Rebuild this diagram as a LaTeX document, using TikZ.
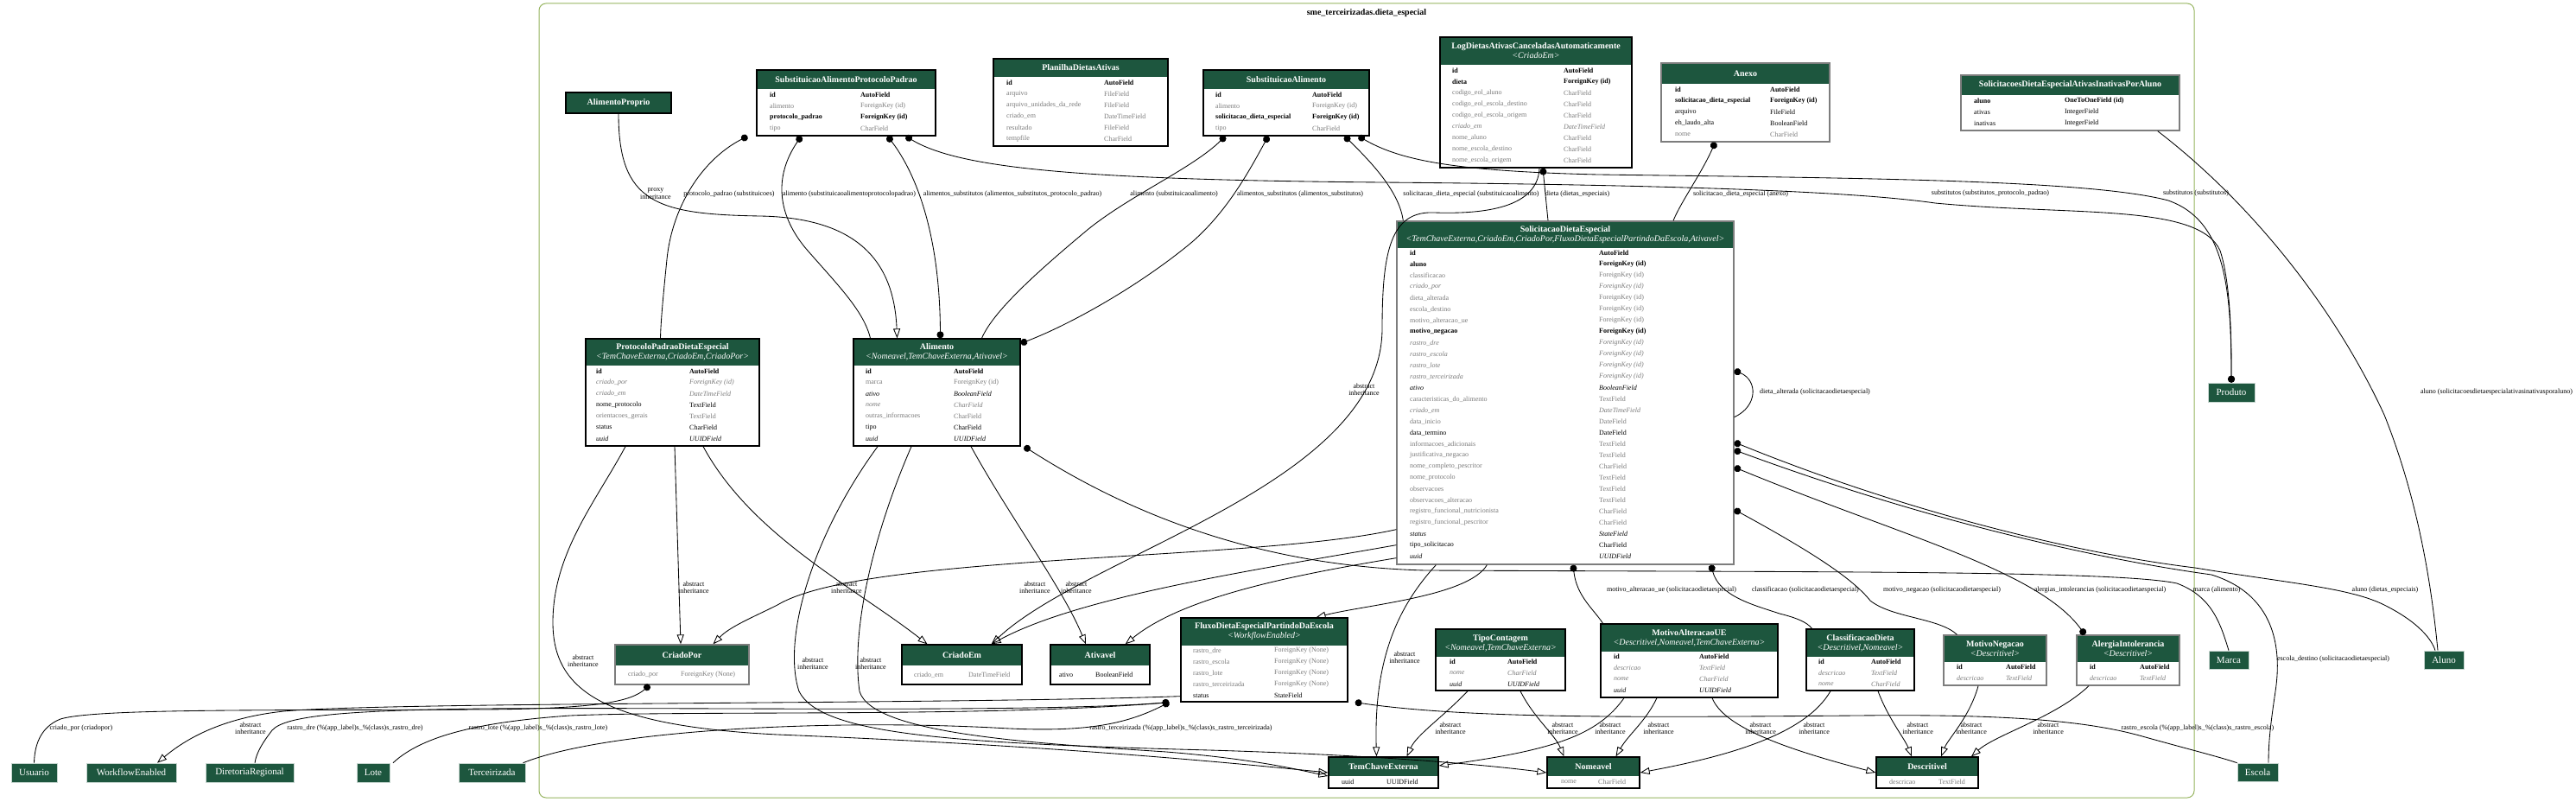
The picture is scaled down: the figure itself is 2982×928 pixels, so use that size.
\documentclass[tikz,border=0pt]{standalone}
\usepackage{fontspec}
\setmainfont{Liberation Serif}
\usetikzlibrary{arrows.meta,positioning,fit}

\definecolor{hdrgreen}{RGB}{29,86,62}
\definecolor{muted}{RGB}{123,123,123}
\definecolor{framegray}{RGB}{125,125,125}
\definecolor{clusterline}{RGB}{150,180,95}

\tikzset{
  tblblack/.style={draw=black, line width=1.3pt, inner sep=0pt},
  tblgray/.style={draw=framegray, line width=1.3pt, inner sep=0pt},
  hdrtext/.style={text=white, align=center, inner sep=0pt, font=\fontsize{10}{11}\selectfont\bfseries},
  fld/.style={anchor=west, inner sep=0pt, font=\fontsize{8}{9}\selectfont},
  fbold/.style={font=\fontsize{8}{9}\selectfont\bfseries},
  fplain/.style={},
  fmuted/.style={text=muted},
  fmutedit/.style={text=muted, font=\fontsize{8}{9}\selectfont\itshape},
  fitalic/.style={font=\fontsize{8}{9}\selectfont\itshape},
  extmodel/.style={fill=hdrgreen, draw=white!75!hdrgreen, line width=0.6pt, text=white, inner sep=0pt, minimum height=22pt, font=\fontsize{11}{12}\selectfont},
  elabel/.style={inner sep=0pt, align=center, font=\fontsize{8}{8.5}\selectfont},
  rel/.style={line width=0.85pt},
  fk/.style={rel, {Circle[length=8pt]}-},
  mtm/.style={rel, {Circle[length=8pt]}-{Circle[length=8pt]}},
  inh/.style={rel, -{Triangle[open, length=11pt, width=8pt]}},
}

% frame style, name, x1, y1, x2, header bottom, y2, title
\newcommand{\modelbox}[8]{%
  \fill[hdrgreen] (#3,#4) rectangle (#5,#6);
  \node[hdrtext] (#2-title) at ({(#3+#5)/2},{(#4+#6)/2}) {#8};
  \node[#1, fit={(#3,#4) (#5,#7)}] (#2) {};
}
% name, field x, type x, first row y, rows
\newcommand{\modelrows}[5]{%
  \foreach \fname/\ftype/\fsty [count=\i] in {#5} {
    \node[fld,\fsty] (#1-n\i) at (#2,{#4+13*(\i-1)}) {\fname};
    \node[fld,\fsty] (#1-t\i) at (#3,{#4+13*(\i-1)}) {\ftype};
  }}
\newcommand{\bases}[1]{\\{\mdseries\itshape <#1>}}

\begin{document}
\begin{tikzpicture}[x=1pt, y=-1pt]
\useasboundingbox (0,0) rectangle (2982,928);
\fill[white] (0,0) rectangle (2982,928);

\draw[clusterline, line width=1pt, rounded corners=8pt] (624,4) rectangle (2540,923);
\node[inner sep=0pt, font=\fontsize{10}{11}\selectfont\bfseries] (apptitle) at (1582,15) {sme\_terceirizadas.dieta\_especial};

% models of the app
\modelbox{tblblack}{alimproprio}{655}{107}{777}{131}{131}{AlimentoProprio}

\modelbox{tblblack}{sapp}{876}{81}{1083}{103}{157}{SubstituicaoAlimentoProtocoloPadrao}
\modelrows{sapp}{891}{996}{109.5}{id/AutoField/fbold, alimento/ForeignKey (id)/fmuted,
  protocolo\_padrao/ForeignKey (id)/fbold, tipo/CharField/fmuted}

\modelbox{tblblack}{planilha}{1150}{68}{1352}{89}{169}{PlanilhaDietasAtivas}
\modelrows{planilha}{1165}{1278}{95.5}{id/AutoField/fbold, arquivo/FileField/fmuted,
  arquivo\_unidades\_da\_rede/FileField/fmuted, criado\_em/DateTimeField/fmuted,
  resultado/FileField/fmuted, tempfile/CharField/fmuted}

\modelbox{tblblack}{subalim}{1393}{81}{1585}{103}{157}{SubstituicaoAlimento}
\modelrows{subalim}{1407}{1519}{109.5}{id/AutoField/fbold, alimento/ForeignKey (id)/fmuted,
  solicitacao\_dieta\_especial/ForeignKey (id)/fbold, tipo/CharField/fmuted}

\modelbox{tblblack}{logdietas}{1667}{43}{1889}{75}{194}{LogDietasAtivasCanceladasAutomaticamente\bases{CriadoEm}}
\modelrows{logdietas}{1681}{1810}{81.5}{id/AutoField/fbold, dieta/ForeignKey (id)/fbold,
  codigo\_eol\_aluno/CharField/fmuted, codigo\_eol\_escola\_destino/CharField/fmuted,
  codigo\_eol\_escola\_origem/CharField/fmuted, criado\_em/DateTimeField/fmutedit,
  nome\_aluno/CharField/fmuted, nome\_escola\_destino/CharField/fmuted,
  nome\_escola\_origem/CharField/fmuted}

\modelbox{tblgray}{anexo}{1923}{73}{2118}{97}{164}{Anexo}
\modelrows{anexo}{1939}{2049}{103.5}{id/AutoField/fbold,
  solicitacao\_dieta\_especial/ForeignKey (id)/fbold, arquivo/FileField/fplain,
  eh\_laudo\_alta/BooleanField/fplain, nome/CharField/fmuted}

\modelbox{tblgray}{ativinat}{2270}{87}{2523}{110}{151}{SolicitacoesDietaEspecialAtivasInativasPorAluno}
\modelrows{ativinat}{2285}{2390}{116.5}{aluno/OneToOneField (id)/fbold,
  ativas/IntegerField/fplain, inativas/IntegerField/fplain}

\modelbox{tblblack}{protocolo}{678}{392}{879}{423}{516}{ProtocoloPadraoDietaEspecial\bases{TemChaveExterna,CriadoEm,CriadoPor}}
\modelrows{protocolo}{690}{798}{429.5}{id/AutoField/fbold, criado\_por/ForeignKey (id)/fmutedit,
  criado\_em/DateTimeField/fmutedit, nome\_protocolo/TextField/fplain,
  orientacoes\_gerais/TextField/fmuted, status/CharField/fplain, uuid/UUIDField/fitalic}

\modelbox{tblblack}{alimento}{988}{392}{1181}{423}{516}{Alimento\bases{Nomeavel,TemChaveExterna,Ativavel}}
\modelrows{alimento}{1002}{1104}{429.5}{id/AutoField/fbold, marca/ForeignKey (id)/fmuted,
  ativo/BooleanField/fitalic, nome/CharField/fmutedit, outras\_informacoes/CharField/fmuted,
  tipo/CharField/fplain, uuid/UUIDField/fitalic}

\modelbox{tblgray}{sde}{1617}{256}{2007}{287}{653}{SolicitacaoDietaEspecial\bases{TemChaveExterna,CriadoEm,CriadoPor,FluxoDietaEspecialPartindoDaEscola,Ativavel}}
\modelrows{sde}{1632}{1851}{293}{id/AutoField/fbold, aluno/ForeignKey (id)/fbold,
  classificacao/ForeignKey (id)/fmuted, criado\_por/ForeignKey (id)/fmutedit,
  dieta\_alterada/ForeignKey (id)/fmuted, escola\_destino/ForeignKey (id)/fmuted,
  motivo\_alteracao\_ue/ForeignKey (id)/fmuted, motivo\_negacao/ForeignKey (id)/fbold,
  rastro\_dre/ForeignKey (id)/fmutedit, rastro\_escola/ForeignKey (id)/fmutedit,
  rastro\_lote/ForeignKey (id)/fmutedit, rastro\_terceirizada/ForeignKey (id)/fmutedit,
  ativo/BooleanField/fitalic, caracteristicas\_do\_alimento/TextField/fmuted,
  criado\_em/DateTimeField/fmutedit, data\_inicio/DateField/fmuted,
  data\_termino/DateField/fplain, informacoes\_adicionais/TextField/fmuted,
  justificativa\_negacao/TextField/fmuted, nome\_completo\_pescritor/CharField/fmuted,
  nome\_protocolo/TextField/fmuted, observacoes/TextField/fmuted,
  observacoes\_alteracao/TextField/fmuted, registro\_funcional\_nutricionista/CharField/fmuted,
  registro\_funcional\_pescritor/CharField/fmuted, status/StateField/fitalic,
  tipo\_solicitacao/CharField/fplain, uuid/UUIDField/fitalic}

\modelbox{tblgray}{criadopor}{712}{746}{867}{770}{792}{CriadoPor}
\modelrows{criadopor}{727}{788}{781}{criado\_por/ForeignKey (None)/fmuted}

\modelbox{tblblack}{criadoem}{1044}{746}{1183}{770}{792}{CriadoEm}
\modelrows{criadoem}{1058}{1121}{781}{criado\_em/DateTimeField/fmuted}

\modelbox{tblblack}{ativavel}{1216}{746}{1331}{770}{792}{Ativavel}
\modelrows{ativavel}{1226}{1268}{781}{ativo/BooleanField/fplain}

\modelbox{tblblack}{fluxo}{1367}{715}{1560}{747}{812}{FluxoDietaEspecialPartindoDaEscola\bases{WorkflowEnabled}}
\modelrows{fluxo}{1381}{1475}{753}{rastro\_dre/ForeignKey (None)/fmuted,
  rastro\_escola/ForeignKey (None)/fmuted, rastro\_lote/ForeignKey (None)/fmuted,
  rastro\_terceirizada/ForeignKey (None)/fmuted, status/StateField/fplain}

\modelbox{tblblack}{tipocont}{1662}{728}{1812}{760}{799}{TipoContagem\bases{Nomeavel,TemChaveExterna}}
\modelrows{tipocont}{1678}{1745}{766}{id/AutoField/fbold, nome/CharField/fmutedit,
  uuid/UUIDField/fitalic}

\modelbox{tblblack}{motivoalt}{1853}{722}{2058}{754}{807}{MotivoAlteracaoUE\bases{Descritivel,Nomeavel,TemChaveExterna}}
\modelrows{motivoalt}{1868}{1967}{760}{id/AutoField/fbold, descricao/TextField/fmutedit,
  nome/CharField/fmutedit, uuid/UUIDField/fitalic}

\modelbox{tblblack}{classif}{2091}{728}{2216}{760}{799}{ClassificacaoDieta\bases{Descritivel,Nomeavel}}
\modelrows{classif}{2105}{2166}{766}{id/AutoField/fbold, descricao/TextField/fmutedit,
  nome/CharField/fmutedit}

\modelbox{tblgray}{motivoneg}{2250}{735}{2369}{766}{793}{MotivoNegacao\bases{Descritivel}}
\modelrows{motivoneg}{2265}{2322}{772}{id/AutoField/fbold, descricao/TextField/fmutedit}

\modelbox{tblgray}{alergia}{2404}{735}{2523}{766}{793}{AlergiaIntolerancia\bases{Descritivel}}
\modelrows{alergia}{2419}{2477}{772}{id/AutoField/fbold, descricao/TextField/fmutedit}

\modelbox{tblblack}{temchave}{1538}{876}{1665}{898}{912}{TemChaveExterna}
\modelrows{temchave}{1553}{1605}{905}{uuid/UUIDField/fplain}

\modelbox{tblblack}{nomeavel}{1791}{876}{1898}{898}{912}{Nomeavel}
\modelrows{nomeavel}{1807}{1850}{905}{nome/CharField/fmuted}

\modelbox{tblblack}{descritivel}{2172}{876}{2290}{898}{912}{Descritivel}
\modelrows{descritivel}{2187}{2244}{905}{descricao/TextField/fmuted}

% models of other apps
\node[extmodel, minimum width=53pt] (usuario) at (39.5,894) {Usuario};
\node[extmodel, minimum width=104pt] (workflow) at (152,894) {WorkflowEnabled};
\node[extmodel, minimum width=102pt] (diretoria) at (289,894) {DiretoriaRegional};
\node[extmodel, minimum width=38pt] (lote) at (432,894) {Lote};
\node[extmodel, minimum width=77pt] (terceirizada) at (569.5,894) {Terceirizada};
\node[extmodel, minimum width=54pt] (produto) at (2583,454) {Produto};
\node[extmodel, minimum width=46pt, minimum height=21pt] (marca) at (2580,763.5) {Marca};
\node[extmodel, minimum width=46pt, minimum height=21pt] (aluno) at (2829,763.5) {Aluno};
\node[extmodel, minimum width=47pt, minimum height=21pt] (escola) at (2613.5,893.5) {Escola};

% relations, upper row
\draw[inh] (alimproprio.south) .. controls (716,235) and (760,248) .. (880,250) .. controls (990,252) and (1035,300) .. ([xshift=-46pt]alimento.north);
\draw[fk] ([xshift=-10pt]sapp.south west) .. controls (812,185) and (778,240) .. (772,300) .. controls (768,340) and (765,370) .. ([xshift=-14pt]protocolo.north);
\draw[fk] ([xshift=-52pt]sapp.south) .. controls (895,205) and (900,250) .. (935,290) .. controls (970,330) and (1000,360) .. ([xshift=-77pt]alimento.north);
\draw[mtm] ([xshift=48pt]sapp.south) .. controls (1060,200) and (1088,270) .. ([xshift=4pt]alimento.north);
\draw[mtm] ([xshift=-35pt]sapp.south east) .. controls (1110,195) and (1250,208) .. (1600,211) .. controls (1950,214) and (2150,222) .. (2240,235) .. controls (2400,250) and (2545,235) .. (2570,290) .. controls (2583,330) and (2583,400) .. (produto.north);
\draw[fk] ([xshift=26pt]subalim.south west) .. controls (1380,195) and (1310,225) .. (1260,265) .. controls (1200,315) and (1150,360) .. ([xshift=52pt]alimento.north);
\draw[mtm] ([xshift=-21pt]subalim.south) .. controls (1445,200) and (1420,245) .. (1380,280) .. controls (1320,330) and (1240,375) .. ([yshift=-6pt]alimento.north east);
\draw[fk] ([xshift=-29pt]subalim.south east) .. controls (1595,195) and (1620,225) .. ([xshift=8pt]sde.north west);
\draw[mtm] ([xshift=-13pt]subalim.south east) .. controls (1620,185) and (1680,198) .. (1850,202) .. controls (2150,206) and (2420,208) .. (2510,232) .. controls (2575,255) and (2583,330) .. (produto.north);
\draw[fk] ([xshift=8pt]logdietas.south) -- ([xshift=-20pt]sde.north);
\draw[inh] ([xshift=4pt]logdietas.south) .. controls (1780,240) and (1720,248) .. (1660,246) .. controls (1610,244) and (1600,290) .. (1600,380) .. controls (1600,560) and (1260,640) .. ([xshift=-36pt]criadoem.north east);
\draw[fk] ([xshift=-35pt]anexo.south) .. controls (1970,200) and (1945,235) .. ([xshift=125pt]sde.north);
\draw[rel] ([xshift=-26pt]ativinat.south east) .. controls (2600,230) and (2700,350) .. (2760,480) .. controls (2800,580) and (2815,680) .. ([xshift=-7pt]aluno.north);

% relations, middle row
\draw[inh] ([xshift=-54.5pt]protocolo.south) .. controls (690,580) and (640,640) .. (640,720) .. controls (640,800) and (700,840) .. (900,850) .. controls (1200,862) and (1400,880) .. (temchave.west);
\draw[inh] ([xshift=2.5pt]protocolo.south) -- ([xshift=-1.5pt]criadopor.north);
\draw[inh] ([xshift=35.5pt]protocolo.south) .. controls (870,620) and (990,680) .. ([xshift=-40pt]criadoem.north);
\draw[inh] ([xshift=-68.5pt]alimento.south) .. controls (940,620) and (905,740) .. (925,800) .. controls (950,850) and (1100,860) .. (1400,868) .. controls (1600,874) and (1720,885) .. (nomeavel.west);
\draw[inh] ([xshift=-29.5pt]alimento.south) .. controls (1010,620) and (985,730) .. (995,800) .. controls (1010,850) and (1200,860) .. (1350,870) .. controls (1450,878) and (1500,890) .. ([yshift=-4pt]temchave.west);
\draw[inh] ([xshift=39.5pt]alimento.south) .. controls (1170,600) and (1230,680) .. ([xshift=-16.5pt]ativavel.north);
\draw[fk] ([xshift=4pt]alimento.south east) .. controls (1300,590) and (1450,655) .. (1650,660) .. controls (2100,662) and (2450,660) .. (2520,675) .. controls (2560,690) and (2570,720) .. (marca.north);

\draw[inh] ([yshift=41pt]sde.south west) .. controls (1450,650) and (1000,640) .. (900,700) .. controls (870,715) and (845,725) .. ([xshift=36pt]criadopor.north);
\draw[inh] ([yshift=23pt]sde.south west) .. controls (1450,660) and (1250,690) .. ([xshift=-36pt]criadoem.north east);
\draw[inh] ([yshift=8pt]sde.south west) .. controls (1500,665) and (1370,690) .. ([xshift=-29pt]ativavel.north east);
\draw[inh] ([xshift=105pt]sde.south west) .. controls (1700,690) and (1580,700) .. ([xshift=60pt]fluxo.north);
\draw[inh] ([xshift=46pt]sde.south west) .. controls (1620,700) and (1590,760) .. ([xshift=-8pt]temchave.north);
\draw[fk] ([xshift=9pt]sde.south) .. controls (1825,690) and (1845,705) .. ([xshift=-100pt]motivoalt.north);
\draw[fk] ([xshift=-27pt]sde.south east) .. controls (1990,690) and (2030,700) .. (2060,710) .. controls (2080,715) and (2092,720) .. ([xshift=-56pt]classif.north);
\draw[fk] ([yshift=64pt]sde.south east) .. controls (2100,640) and (2145,670) .. (2165,695) .. controls (2190,715) and (2245,715) .. ([xshift=-44pt]motivoneg.north);
\draw[mtm] ([yshift=113pt]sde.south east) .. controls (2200,620) and (2360,660) .. ([xshift=-50pt]alergia.north);
\draw[fk] ([yshift=133pt]sde.south east) .. controls (2250,610) and (2450,650) .. (2560,665) .. controls (2640,690) and (2640,760) .. (2634,800) .. controls (2628,840) and (2626,860) .. ([xshift=12.5pt]escola.north);
\draw[fk] ([yshift=142pt]sde.south east) .. controls (2200,590) and (2400,640) .. (2541,657) .. controls (2650,675) and (2720,680) .. (2760,700) .. controls (2800,720) and (2815,740) .. ([xshift=-10pt]aluno.north);
\draw[fk] ([yshift=225pt]sde.south east) .. controls (2035,440) and (2035,470) .. ([yshift=171pt]sde.south east);

% relations, lower row
\draw[fk] ([xshift=-37.5pt]criadopor.south) .. controls (730,812) and (690,820) .. (560,821) .. controls (300,822) and (110,820) .. (70,832) .. controls (45,842) and (40,865) .. (usuario.north);
\draw[inh] ([yshift=7pt]fluxo.south west) .. controls (1100,815) and (500,812) .. (340,822) .. controls (260,828) and (215,855) .. ([xshift=30pt]workflow.north);
\draw[fk] ([xshift=-13pt]fluxo.south west) .. controls (1200,825) and (800,818) .. (560,820) .. controls (400,822) and (330,828) .. (315,845) .. controls (305,858) and (297,870) .. ([xshift=6pt]diretoria.north);
\draw[fk] ([xshift=-13pt]fluxo.south west) .. controls (1150,830) and (800,822) .. (660,828) .. controls (560,835) and (490,850) .. ([xshift=23pt]lote.north);
\draw[fk] ([xshift=-13pt]fluxo.south west) .. controls (1300,840) and (1250,848) .. (1150,842) .. controls (950,832) and (700,845) .. ([xshift=36pt]terceirizada.north);
\draw[fk] ([xshift=8pt]fluxo.south east) .. controls (1700,832) and (1900,830) .. (2150,828) .. controls (2330,826) and (2420,835) .. (2480,852) .. controls (2530,866) and (2570,876) .. (escola.north west);

\draw[inh] ([xshift=-38pt]tipocont.south) .. controls (1670,830) and (1640,850) .. ([xshift=27pt]temchave.north);
\draw[inh] ([xshift=23pt]tipocont.south) .. controls (1775,830) and (1800,850) .. ([xshift=-34pt]nomeavel.north);
\draw[inh] ([xshift=-75.5pt]motivoalt.south) .. controls (1850,850) and (1800,868) .. ([yshift=8pt]temchave.east);
\draw[inh] ([xshift=-37.5pt]motivoalt.south) .. controls (1905,835) and (1885,850) .. ([xshift=26pt]nomeavel.north);
\draw[inh] ([xshift=26.5pt]motivoalt.south) .. controls (1995,840) and (2060,865) .. (descritivel.west);
\draw[inh] ([xshift=-34.5pt]classif.south) .. controls (2090,850) and (2000,875) .. (nomeavel.east);
\draw[inh] ([xshift=20.5pt]classif.south) .. controls (2185,830) and (2205,855) .. ([xshift=-18pt]descritivel.north);
\draw[inh] ([xshift=-19.5pt]motivoneg.south) .. controls (2280,830) and (2255,855) .. ([xshift=16pt]descritivel.north);
\draw[inh] ([xshift=-45.5pt]alergia.south) .. controls (2380,830) and (2310,850) .. ([xshift=51pt]descritivel.north);

% labels of the relations
\node[elabel] (l-proxy) at (759,224) {proxy\\inheritance};
\node[elabel] (l-sapp-pp) at (844,225) {protocolo\_padrao (substituicoes)};
\node[elabel] (l-sapp-al) at (983,225) {alimento (substituicaoalimentoprotocolopadrao)};
\node[elabel] (l-sapp-as) at (1172,225) {alimentos\_substitutos (alimentos\_substitutos\_protocolo\_padrao)};
\node[elabel] (l-sa-al) at (1359,225) {alimento (substituicaoalimento)};
\node[elabel] (l-sa-as) at (1505,225) {alimentos\_substitutos (alimentos\_substitutos)};
\node[elabel] (l-sa-sde) at (1703,225) {solicitacao\_dieta\_especial (substituicaoalimento)};
\node[elabel] (l-log) at (1826,225) {dieta (dietas\_especiais)};
\node[elabel] (l-anexo) at (2015,225) {solicitacao\_dieta\_especial (anexo)};
\node[elabel] (l-sapp-sub) at (2304,224) {substitutos (substitutos\_protocolo\_padrao)};
\node[elabel] (l-sa-sub) at (2542,224) {substitutos (substitutos)};
\node[elabel] (l-ativinat) at (2890,454) {aluno (solicitacoesdietaespecialativasinativasporaluno)};
\node[elabel] (l-selfloop) at (2101,454) {dieta\_alterada (solicitacaodietaespecial)};
\node[elabel] (l-motalt) at (1935,683) {motivo\_alteracao\_ue (solicitacaodietaespecial)};
\node[elabel] (l-classif) at (2090,683) {classificacao (solicitacaodietaespecial)};
\node[elabel] (l-motneg) at (2248,683) {motivo\_negacao (solicitacaodietaespecial)};
\node[elabel] (l-alergia) at (2431,683) {alergias\_intolerancias (solicitacaodietaespecial)};
\node[elabel] (l-marca) at (2566,683) {marca (alimento)};
\node[elabel] (l-aluno) at (2761,683) {aluno (dietas\_especiais)};
\node[elabel] (l-escdest) at (2701,763) {escola\_destino (solicitacaodietaespecial)};
\node[elabel] (l-rescola) at (2544,843) {rastro\_escola (\%(app\_label)s\_\%(class)s\_rastro\_escola)};
\node[elabel] (l-criadopor) at (94,843) {criado\_por (criadopor)};
\node[elabel] (l-rdre) at (411,843) {rastro\_dre (\%(app\_label)s\_\%(class)s\_rastro\_dre)};
\node[elabel] (l-rlote) at (623,843) {rastro\_lote (\%(app\_label)s\_\%(class)s\_rastro\_lote)};
\node[elabel] (l-rterc) at (1367,843) {rastro\_terceirizada (\%(app\_label)s\_\%(class)s\_rastro\_terceirizada)};
\foreach \lname/\lx/\ly in {i-workflow/290/843, i-pp-tce/675/765, i-pp-cp/803/680, i-pp-ce/980/680,
  i-al-nom/941/768, i-al-tce/1008/768, i-al-at/1198/680, i-sde-cp/1246/680, i-log/1579/451,
  i-sde-tce/1626/761, i-tc-tce/1679/843, i-tc-nom/1809/843, i-ma-tce/1864/843, i-ma-nom/1920/843,
  i-ma-desc/2038/843, i-cl-nom/2100/843, i-cl-desc/2220/843, i-mn-desc/2282/843, i-ai-desc/2371/843}
  \node[elabel] (\lname) at (\lx,\ly) {abstract\\inheritance};
\end{tikzpicture}
\end{document}
